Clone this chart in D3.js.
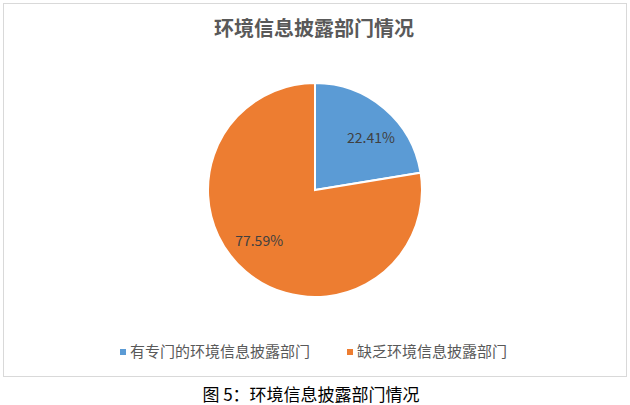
<!DOCTYPE html>
<html>
<head>
<meta charset="utf-8">
<script src="https://cdn.jsdelivr.net/npm/d3@7"></script>
<style>
  body { margin: 0; background: #fff; }
  text { font-family: "Noto Sans CJK SC", "Noto Sans", sans-serif; }
</style>
</head>
<body>
<svg id="chart" width="630" height="405"></svg>
<script>
var categories = ['有专门的环境信息披露部门', '缺乏环境信息披露部门'];
var values = [22.41, 77.59];
var colors = ['#5b9bd5', '#ed7d31'];
var chartTitle = '环境信息披露部门情况';
var caption = '图 5：环境信息披露部门情况';

var svg = d3.select('#chart');
var cx = 315, cy = 190, radius = 107;

// chart frame
svg.append('rect')
    .attr('x', 3.5).attr('y', 3.5)
    .attr('width', 623).attr('height', 373)
    .style('fill', '#fff')
    .style('stroke', '#d9d9d9')
    .style('stroke-width', 1);

svg.append('text')
    .attr('x', 314).attr('y', 36)
    .attr('text-anchor', 'middle')
    .style('font-size', '20px')
    .style('font-weight', 'bold')
    .style('fill', '#595959')
    .text(chartTitle);

var data = categories.map(function (c, i) { return { name: c, value: values[i], color: colors[i] }; });

var pie = d3.pie().sort(null).value(function (d) { return d.value; });
var arc = d3.arc().innerRadius(0).outerRadius(radius);

var g = svg.append('g').attr('transform', 'translate(' + cx + ',' + cy + ')');
var slices = pie(data);

g.selectAll('.slice')
    .data(slices)
    .enter().append('path')
    .attr('class', 'slice')
    .attr('d', arc)
    .style('fill', function (d) { return d.data.color; })
    .style('stroke', '#fff')
    .style('stroke-width', 2);

// labels sit a little clockwise of the slice middle, like excel's best fit
var labelR = 76, labelShift = 7 * Math.PI / 180;
g.selectAll('.label')
    .data(slices)
    .enter().append('text')
    .attr('class', 'label')
    .attr('transform', function (d) {
        var a = (d.startAngle + d.endAngle) / 2 + labelShift;
        return 'translate(' + (labelR * Math.sin(a)) + ',' + (-labelR * Math.cos(a)) + ')';
    })
    .attr('dy', '0.35em')
    .attr('text-anchor', 'middle')
    .style('font-size', '14px')
    .style('fill', '#404040')
    .text(function (d) { return d.data.value.toFixed(2) + '%'; });

// legend
var legendX = [120, 347];
var legend = svg.selectAll('.legend')
    .data(data)
    .enter().append('g')
    .attr('class', 'legend')
    .attr('transform', function (d, i) { return 'translate(' + legendX[i] + ',352)'; });

legend.append('rect')
    .attr('x', 0).attr('y', -3)
    .attr('width', 6).attr('height', 6)
    .style('fill', function (d) { return d.color; });

legend.append('text')
    .attr('x', 10).attr('dy', '0.35em')
    .style('font-size', '15px')
    .style('fill', '#595959')
    .text(function (d) { return d.name; });

svg.append('text')
    .attr('x', 311).attr('y', 395)
    .attr('dy', '0.35em')
    .attr('text-anchor', 'middle')
    .style('font-size', '17px')
    .style('fill', '#000')
    .text(caption);
</script>
</body>
</html>
